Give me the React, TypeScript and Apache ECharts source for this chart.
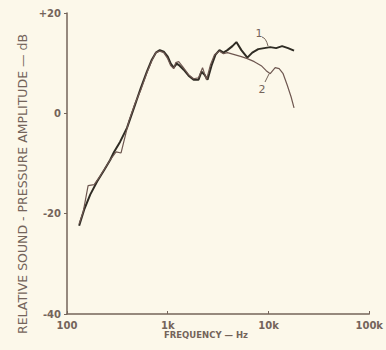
import React, { useEffect, useRef } from "react";
import * as echarts from "echarts";

// Frequency (Hz) and relative SPL (dB)
const curve1Freq = [132, 148, 170, 199, 234, 268, 293, 336, 394, 462, 541, 621, 695, 762, 834, 913, 1000, 1071, 1146, 1227, 1313, 1439, 1611, 1806, 2023, 2166, 2318, 2483, 2718, 2978, 3261, 3572, 3911, 4385, 4800, 5380, 6166, 6905, 7910, 9070, 10400, 11910, 13650, 15640, 17930];
const curve1dB = [-22.4, -19.2, -16.2, -13.6, -11.3, -9.3, -7.7, -5.7, -2.9, 1.1, 5.1, 8.3, 10.7, 12.1, 12.6, 12.3, 11.3, 9.9, 9.1, 9.9, 9.5, 8.7, 7.5, 6.7, 6.7, 8.3, 7.7, 6.7, 9.5, 11.7, 12.6, 12.1, 12.6, 13.4, 14.2, 12.6, 11.1, 12.1, 12.8, 13.0, 13.2, 13.0, 13.4, 13.0, 12.5];

const curve2Freq = [132, 145, 162, 186, 213, 268, 307, 344, 412, 472, 541, 621, 695, 762, 834, 913, 1000, 1071, 1146, 1200, 1284, 1406, 1611, 1806, 2023, 2215, 2427, 2657, 2911, 3261, 3572, 3911, 4587, 5380, 6166, 7230, 8470, 9490, 10400, 11650, 12760, 13970, 15300, 16750, 17930];
const curve2dB = [-22.0, -19.6, -14.4, -14.2, -12.5, -9.3, -7.7, -7.9, -1.5, 1.9, 4.7, 8.1, 10.5, 12.1, 12.4, 12.1, 10.9, 9.5, 8.9, 10.1, 10.3, 9.3, 7.7, 6.9, 7.1, 9.1, 6.7, 9.7, 11.7, 12.4, 11.9, 12.1, 11.7, 11.3, 10.9, 10.3, 9.5, 8.5, 7.9, 9.1, 8.9, 7.9, 5.7, 3.3, 1.1];

const xTickValues = [100, 1000, 10000, 100000];
const xTickLabels = ["100", "1k", "10k", "100k"];
const yTickValues = [-40, -20, 0, 20];
const yTickLabels = ["-40", "-20", "0", "+20"];

const seriesNames = ["1", "2"];
const xTitle = "FREQUENCY — Hz";
const yTitle = "RELATIVE SOUND - PRESSURE AMPLITUDE — dB";

const BG = "#fcf8ea";
const INK = "#74645a";

export default function App() {
  const ref = useRef<HTMLDivElement>(null);
  useEffect(() => {
    document.body.style.background = BG;
    const chart = echarts.init(ref.current!, undefined, { renderer: "svg" });
    const d1 = curve1Freq.map((f, i) => [f, curve1dB[i]]);
    const d2 = curve2Freq.map((f, i) => [f, curve2dB[i]]);
    chart.setOption({
      animation: false,
      backgroundColor: BG,
      grid: { left: 67, top: 13, right: 16, bottom: 36 },
      xAxis: {
        type: "log",
        logBase: 10,
        min: 100,
        max: 100000,
        axisLine: { show: true, onZero: false, lineStyle: { color: INK, width: 1.5 } },
        axisTick: { show: true, inside: true, length: 3, lineStyle: { color: INK } },
        minorTick: { show: false },
        splitLine: { show: false },
        axisLabel: {
          color: INK,
          fontFamily: "DejaVu Sans",
          fontWeight: "bold",
          fontSize: 10,
          margin: 6,
          formatter: (v: number) => {
            const i = xTickValues.findIndex((t) => Math.abs(t - v) / t < 1e-6);
            return i >= 0 ? xTickLabels[i] : "";
          },
        },
      },
      yAxis: {
        type: "value",
        min: -40,
        max: 20,
        interval: 20,
        axisLine: { show: true, onZero: false, lineStyle: { color: INK, width: 1.5 } },
        axisTick: { show: true, length: 3, lineStyle: { color: INK } },
        splitLine: { show: false },
        axisLabel: {
          color: INK,
          fontFamily: "DejaVu Sans",
          fontWeight: "bold",
          fontSize: 10,
          margin: 6,
          formatter: (v: number) => {
            const i = yTickValues.indexOf(v);
            return i >= 0 ? yTickLabels[i] : "";
          },
        },
      },
      series: [
        {
          name: seriesNames[0],
          type: "line",
          data: d1,
          symbol: "none",
          lineStyle: { color: "#2f2c24", width: 2 },
          z: 2,
        },
        {
          name: seriesNames[1],
          type: "line",
          data: d2,
          symbol: "none",
          lineStyle: { color: "#6e5750", width: 1.2 },
          z: 3,
        },
      ],
      graphic: [
        {
          type: "text",
          x: 206,
          y: 335,
          style: {
            text: xTitle,
            fill: INK,
            font: "bold 8.5px 'DejaVu Sans'",
            textAlign: "center",
            textVerticalAlign: "middle",
          },
        },
        {
          type: "text",
          x: 22,
          y: 184,
          rotation: Math.PI / 2,
          style: {
            text: yTitle,
            fill: INK,
            font: "12.5px 'DejaVu Sans'",
            textAlign: "center",
            textVerticalAlign: "middle",
          },
        },
        {
          type: "text",
          x: 259,
          y: 33,
          style: { text: seriesNames[0], fill: INK, font: "11px 'DejaVu Sans'", textAlign: "center", textVerticalAlign: "middle" },
        },
        {
          type: "bezierCurve",
          shape: { x1: 262, y1: 37, x2: 268, y2: 46, cpx1: 266, cpy1: 38 },
          style: { stroke: INK, lineWidth: 1, fill: null },
        },
        {
          type: "text",
          x: 262,
          y: 89,
          style: { text: seriesNames[1], fill: INK, font: "11px 'DejaVu Sans'", textAlign: "center", textVerticalAlign: "middle" },
        },
        {
          type: "line",
          shape: { x1: 265, y1: 82, x2: 269, y2: 74 },
          style: { stroke: INK, lineWidth: 1 },
        },
      ],
    });
    return () => chart.dispose();
  }, []);
  return (
    <div
      ref={ref}
      style={{ position: "fixed", left: 0, top: 0, width: 386, height: 350, background: BG }}
    />
  );
}
